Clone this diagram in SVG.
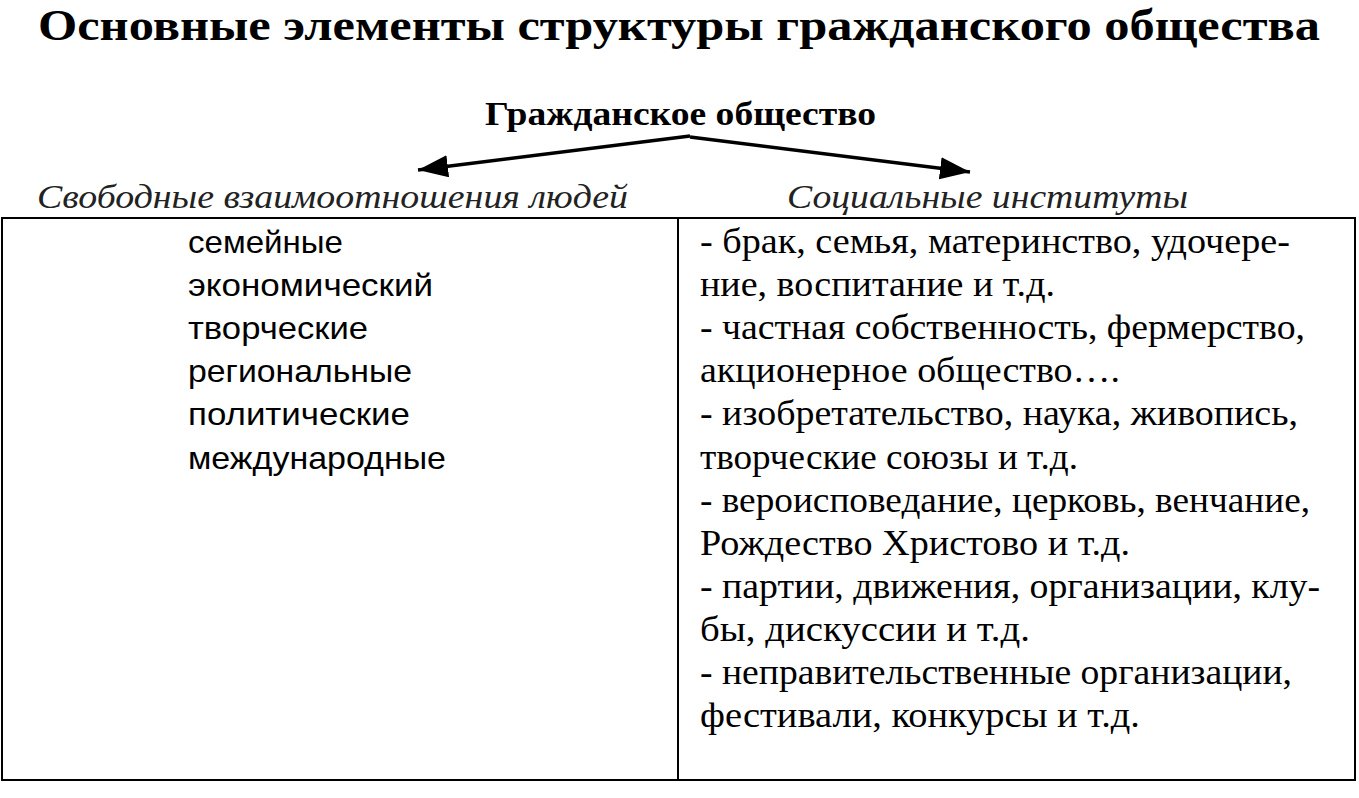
<svg xmlns="http://www.w3.org/2000/svg" width="1359" height="798" viewBox="0 0 1359 798">
<style>
.title{font-family:"Liberation Serif","Times New Roman",serif;font-weight:bold;fill:#000}
.hdr{font-family:"Liberation Serif","Times New Roman",serif;font-style:italic;font-size:33px;fill:#222}
.left{font-family:"Liberation Sans",Arial,sans-serif;font-size:32px;fill:#000}
.right{font-family:"Liberation Serif","Times New Roman",serif;font-size:36px;fill:#000}
.edge{stroke:#000;stroke-width:3.5;fill:none}
.box{fill:#fff;stroke:#000;stroke-width:2}
</style>
<defs>
<marker id="ah" markerUnits="userSpaceOnUse" markerWidth="32" markerHeight="24" refX="30" refY="11" orient="auto">
<path d="M0,0 L30,11 L0,22 Z" fill="#000"/>
</marker>
</defs>
<rect width="1359" height="798" fill="#fff"/>
<text class="title" x="38" y="40" font-size="44" textLength="1282" lengthAdjust="spacingAndGlyphs">Основные элементы структуры гражданского общества</text>
<g id="root">
<text class="title" x="485" y="125" font-size="34" textLength="391" lengthAdjust="spacingAndGlyphs">Гражданское общество</text>
</g>
<g id="connectors">
<line class="edge" x1="690" y1="136" x2="418" y2="170" marker-end="url(#ah)"/>
<line class="edge" x1="690" y1="137" x2="970" y2="172" marker-end="url(#ah)"/>
</g>
<g id="left-node">
<text class="hdr" x="37" y="208" textLength="591" lengthAdjust="spacingAndGlyphs">Свободные взаимоотношения людей</text>
<rect class="box" x="2" y="218" width="676" height="562"/>
<text class="left" x="188" y="253" textLength="155" lengthAdjust="spacingAndGlyphs">семейные</text>
<text class="left" x="188" y="296" textLength="245" lengthAdjust="spacingAndGlyphs">экономический</text>
<text class="left" x="188" y="339" textLength="180" lengthAdjust="spacingAndGlyphs">творческие</text>
<text class="left" x="188" y="382" textLength="224" lengthAdjust="spacingAndGlyphs">региональные</text>
<text class="left" x="188" y="425" textLength="222" lengthAdjust="spacingAndGlyphs">политические</text>
<text class="left" x="188" y="469" textLength="258" lengthAdjust="spacingAndGlyphs">международные</text>
</g>
<g id="right-node">
<text class="hdr" x="787" y="208" textLength="401" lengthAdjust="spacingAndGlyphs">Социальные институты</text>
<rect class="box" x="678" y="218" width="677" height="562"/>
<text class="right" x="700" y="253" textLength="590" lengthAdjust="spacingAndGlyphs">- брак, семья, материнство, удочере-</text>
<text class="right" x="700" y="296" textLength="355" lengthAdjust="spacingAndGlyphs">ние, воспитание и т.д.</text>
<text class="right" x="700" y="339" textLength="605" lengthAdjust="spacingAndGlyphs">- частная собственность, фермерство,</text>
<text class="right" x="700" y="382" textLength="420" lengthAdjust="spacingAndGlyphs">акционерное общество….</text>
<text class="right" x="700" y="425" textLength="598" lengthAdjust="spacingAndGlyphs">- изобретательство, наука, живопись,</text>
<text class="right" x="700" y="469" textLength="378" lengthAdjust="spacingAndGlyphs">творческие союзы и т.д.</text>
<text class="right" x="700" y="512" textLength="610" lengthAdjust="spacingAndGlyphs">- вероисповедание, церковь, венчание,</text>
<text class="right" x="700" y="555" textLength="430" lengthAdjust="spacingAndGlyphs">Рождество Христово и т.д.</text>
<text class="right" x="700" y="598" textLength="620" lengthAdjust="spacingAndGlyphs">- партии, движения, организации, клу-</text>
<text class="right" x="700" y="641" textLength="330" lengthAdjust="spacingAndGlyphs">бы, дискуссии и т.д.</text>
<text class="right" x="700" y="684" textLength="592" lengthAdjust="spacingAndGlyphs">- неправительственные организации,</text>
<text class="right" x="700" y="727" textLength="440" lengthAdjust="spacingAndGlyphs">фестивали, конкурсы и т.д.</text>
</g>
</svg>
